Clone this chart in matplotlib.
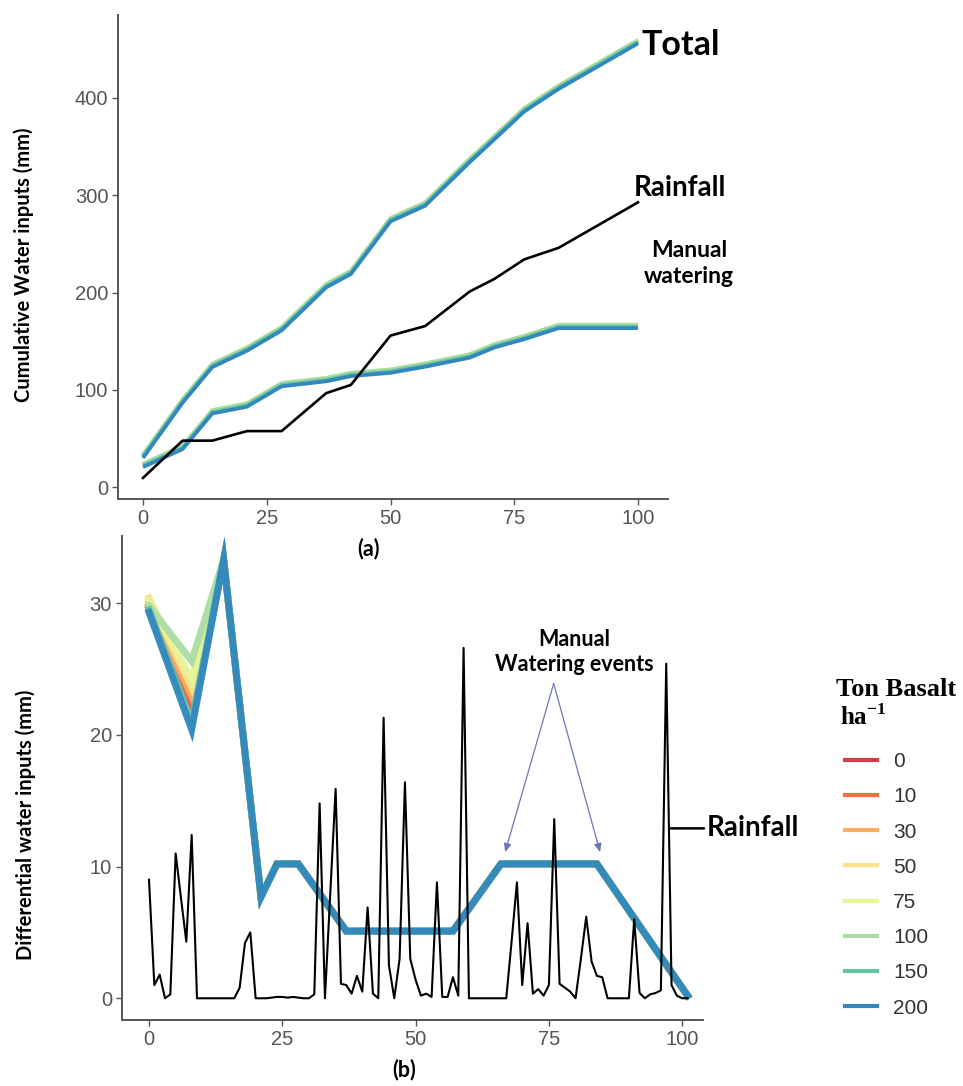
import matplotlib
matplotlib.use("Agg")
import matplotlib.pyplot as plt
from matplotlib import font_manager
from matplotlib.lines import Line2D

# ---------------- data ----------------
# Basalt application rates (t/ha) and their colours
rates = ["0", "10", "30", "50", "75", "100", "150", "200"]
rate_colors = ["#d53e4f", "#f46d43", "#fdae61", "#fee08b",
               "#e6f598", "#abdda4", "#66c2a5", "#3288bd"]

# (a) cumulative inputs at sampling dates (mm)
cum_days = [0, 8, 14, 21, 28, 37, 42, 50, 57, 66, 71, 77, 84, 100]
cum_rain = [9.4, 47.7, 47.7, 57.5, 57.5, 96.5, 105.0, 155.7, 165.5, 201.0,
            214.0, 234.0, 246.0, 292.7]
cum_manual = [20.5, 39.0, 75.6, 82.6, 103.5, 108.7, 114.0, 117.4, 123.7,
              133.0, 143.5, 152.0, 163.4, 163.4]
# extra manual water per rate relative to the 200 t/ha pots (mm)
manual_shift = [2.5, 2.5, 3.0, 3.0, 3.5, 3.5, 1.5, 0.0]

# (b) differential water inputs per interval (mm)
diff_days = [0, 8, 14, 21, 24, 28, 37, 57, 66, 84, 101]
diff_200 = [29.3, 20.4, 33.3, 7.7, 10.2, 10.2, 5.1, 5.1, 10.2, 10.2, 0.2]
diff_day0 = [29.6, 29.8, 30.0, 30.4, 30.2, 29.8, 29.5, 29.3]
diff_day8 = [22.3, 22.6, 23.0, 23.6, 24.2, 25.6, 21.0, 20.4]

# daily rainfall (mm), day 0 to day 101
rain_days = list(range(102))
rain_daily = [9.0, 1.0, 1.8, 0.0, 0.3, 11.0, 7.6, 4.3, 12.4, 0.0,
              0.0, 0.0, 0.0, 0.0, 0.0, 0.0, 0.0, 0.8, 4.2, 5.0,
              0.0, 0.0, 0.0, 0.05, 0.1, 0.1, 0.05, 0.1, 0.05, 0.0,
              0.0, 0.3, 14.8, 0.0, 8.0, 15.9, 1.1, 1.0, 0.35, 1.7,
              0.5, 6.9, 0.35, 0.0, 21.3, 2.5, 0.0, 3.0, 16.4, 3.0,
              1.4, 0.2, 0.35, 0.1, 8.8, 0.1, 0.1, 1.6, 0.2, 26.6,
              0.0, 0.0, 0.0, 0.0, 0.0, 0.0, 0.0, 0.0, 4.3, 8.8,
              1.0, 5.7, 0.35, 0.7, 0.2, 1.0, 13.6, 1.1, 0.8, 0.5,
              0.0, 3.0, 6.2, 2.8, 1.7, 1.6, 0.0, 0.0, 0.0, 0.0,
              0.0, 6.0, 0.4, 0.0, 0.3, 0.4, 0.6, 25.4, 1.0, 0.2,
              0.0, 0.0]

# ---------------- fonts ----------------
installed = {f.name for f in font_manager.fontManager.ttflist}
def pick(*names):
    for n in names:
        if n in installed:
            return n
    return "DejaVu Sans"

tick_font = pick("Liberation Sans Narrow", "Liberation Sans", "Arial")
head_font = pick("Lato", "Open Sans", "DejaVu Sans")
serif_font = pick("Liberation Serif", "DejaVu Serif")

plt.rcParams["mathtext.fontset"] = "custom"
plt.rcParams["mathtext.rm"] = serif_font
plt.rcParams["mathtext.bf"] = serif_font + ":bold"

W, H = 963, 1086
fig = plt.figure(figsize=(W / 100, H / 100), dpi=100)

def fx(px):
    return px / W

def fy(py):
    return 1 - py / H

def axes_px(left, top, right, bottom):
    return fig.add_axes([fx(left), fy(bottom), (right - left) / W, (bottom - top) / H])

def style(ax):
    for s in ("top", "right"):
        ax.spines[s].set_visible(False)
    for s in ("left", "bottom"):
        ax.spines[s].set_color("#555555")
        ax.spines[s].set_linewidth(1.4)
    ax.tick_params(colors="#555555", length=4, width=1.0, labelsize=14.5,
                   labelcolor="#555555", pad=3)
    for lab in ax.get_xticklabels() + ax.get_yticklabels():
        lab.set_fontfamily(tick_font)

# ---------------- (a) cumulative ----------------
ax1 = axes_px(118, 15, 668, 499)
ax1.set_xlim(-5.05, 106.06)
ax1.set_ylim(-12.3, 485.3)
for k, (rate, col) in enumerate(zip(rates, rate_colors)):
    man = [m + manual_shift[k] for m in cum_manual]
    tot = [r + m for r, m in zip(cum_rain, man)]
    ax1.plot(cum_days, man, color=col, lw=2.7, solid_capstyle="butt")
    ax1.plot(cum_days, tot, color=col, lw=2.7, solid_capstyle="butt")
ax1.plot(cum_days, cum_rain, color="black", lw=1.9)
ax1.set_xticks([0, 25, 50, 75, 100])
ax1.set_yticks([0, 100, 200, 300, 400])
style(ax1)

ax1.text(100.8, 454, "Total", ha="left", va="center", fontsize=24.5,
         fontweight="bold", fontfamily=head_font, clip_on=False)
ax1.text(108.4, 307, "Rainfall", ha="center", va="center", fontsize=20,
         fontweight="bold", fontfamily=head_font, clip_on=False)
ax1.text(110.3, 230, "Manual\nwatering", ha="center", va="center", fontsize=16.5,
         fontweight="bold", fontfamily=head_font, linespacing=1.3, clip_on=False)

fig.text(fx(24), fy(265), "Cumulative Water inputs (mm)", rotation=90,
         ha="center", va="center", fontsize=14.5, fontweight="bold",
         fontfamily=head_font)
fig.text(fx(368), fy(549), "(a)", ha="center", va="center", fontsize=15.5,
         fontweight="bold", fontfamily=head_font)

# ---------------- (b) differential ----------------
ax2 = axes_px(121.7, 536, 703, 1020)
ax2.set_xlim(-5.12, 103.9)
ax2.set_ylim(-1.65, 35.1)
ax2.plot(rain_days, rain_daily, color="black", lw=1.5, zorder=3)
for k, (rate, col) in enumerate(zip(rates, rate_colors)):
    vals = [diff_day0[k], diff_day8[k]] + diff_200[2:]
    ax2.plot(diff_days, vals, color=col, lw=5.0, solid_joinstyle="miter",
             alpha=0.95, zorder=2)
ax2.set_xticks([0, 25, 50, 75, 100])
ax2.set_yticks([0, 10, 20, 30])
style(ax2)

ax2.annotate("Rainfall", xy=(97.6, 12.9), xytext=(104.6, 12.9),
             ha="left", va="center", fontsize=20, fontweight="bold",
             fontfamily=head_font, annotation_clip=False,
             arrowprops=dict(arrowstyle="-", color="black", lw=1.8,
                             shrinkA=0, shrinkB=0))

ax2.text(79.8, 26.3, "Manual\nWatering events", ha="center", va="center",
         fontsize=15.5, fontweight="bold", fontfamily=head_font, linespacing=1.25)
for tip in [(66.8, 11.1), (84.6, 11.1)]:
    ax2.annotate("", xy=tip, xytext=(75.9, 23.9),
                 arrowprops=dict(arrowstyle="-|>,head_length=0.5,head_width=0.22",
                                 color="#6a78b8", lw=0.9, shrinkA=0, shrinkB=0))

fig.text(fx(26), fy(825), "Differential water inputs (mm)", rotation=90,
         ha="center", va="center", fontsize=14.5, fontweight="bold",
         fontfamily=head_font)
fig.text(fx(404), fy(1070), "(b)", ha="center", va="center", fontsize=15.5,
         fontweight="bold", fontfamily=head_font)

# ---------------- legend ----------------
fig.text(fx(836), fy(690), "Ton Basalt", ha="left", va="center", fontsize=19,
         fontweight="bold", fontfamily=serif_font)
fig.text(fx(840), fy(717), r"ha$^{\mathbf{-1}}$", ha="left", va="center",
         fontsize=18, fontweight="bold", fontfamily=serif_font)
handles = [Line2D([], [], color=c, lw=3.0) for c in rate_colors]
leg = fig.legend(handles, rates, loc="upper left",
                 bbox_to_anchor=(fx(845), fy(752)), frameon=False,
                 prop={"family": tick_font, "size": 15},
                 handlelength=1.55, handletextpad=0.75, labelspacing=0.78,
                 borderaxespad=0, borderpad=0)
for t in leg.get_texts():
    t.set_color("#333333")

fig.savefig("out.png", dpi=100)
